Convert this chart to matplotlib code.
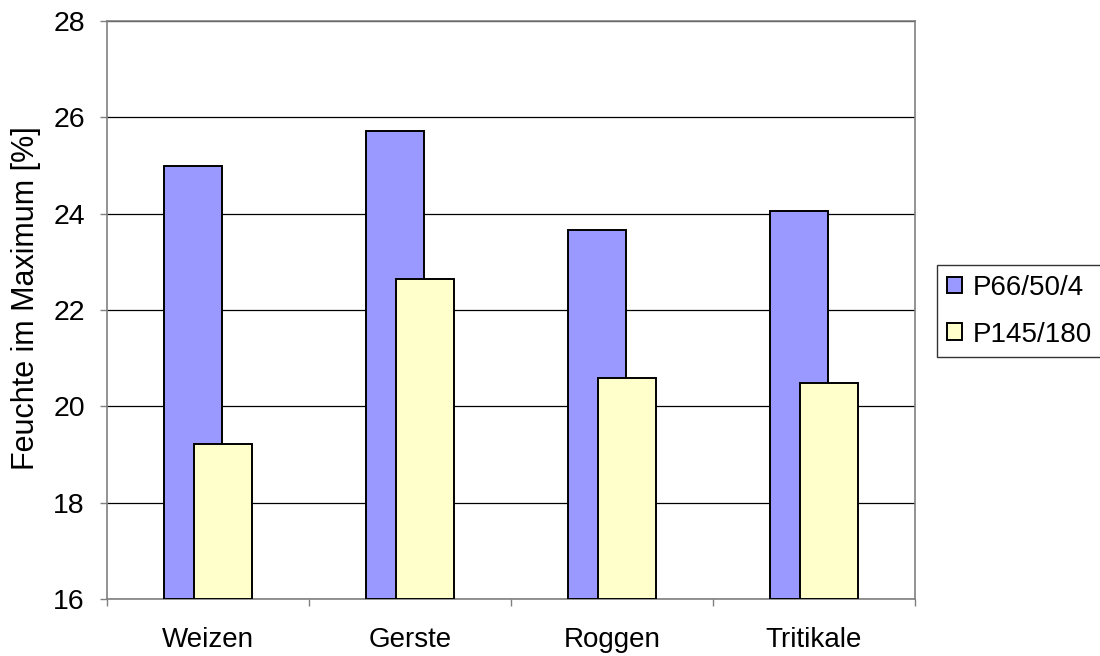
import matplotlib
matplotlib.use("Agg")
import matplotlib.pyplot as plt
import numpy as np

plt.rcParams['font.family'] = ['Liberation Sans', 'DejaVu Sans']

categories = ["Weizen", "Gerste", "Roggen", "Tritikale"]
series_names = ["P66/50/4", "P145/180"]
p66 = [25.0, 25.72, 23.66, 24.06]
p145 = [19.22, 22.64, 20.59, 20.48]
yticks = [16, 18, 20, 22, 24, 26, 28]
colors = ["#9999FF", "#FFFFCC"]

fig = plt.figure(figsize=(11, 6.56), dpi=100)
ax = fig.add_axes([107/1100, 57/656, (915-107)/1100, (599-21)/656])

x = np.arange(len(categories))
w = 0.287
off = 0.072
ax.bar(x - off, np.array(p66) - 16, bottom=16, width=w, color=colors[0],
       edgecolor="black", linewidth=1.4, zorder=3, label=series_names[0])
ax.bar(x + off, np.array(p145) - 16, bottom=16, width=w, color=colors[1],
       edgecolor="black", linewidth=1.4, zorder=4, label=series_names[1])

ax.set_ylim(16, 28)
ax.set_xlim(-0.5, len(categories) - 0.5)
ax.set_yticks(yticks)
ax.set_yticklabels([str(v) for v in yticks])
ax.yaxis.grid(True, color="black", linewidth=0.9, zorder=0)
ax.set_axisbelow(True)

ax.set_xticks(x)
ax.set_xticklabels(categories)
ax.set_xticks(np.arange(-0.5, len(categories), 1.0), minor=True)
ax.tick_params(axis="x", which="major", length=0, pad=20, labelsize=20)
ax.tick_params(axis="x", which="minor", length=5, width=1, color="#808080")
ax.tick_params(axis="y", length=5, width=1, color="#808080", pad=11, labelsize=20.5)

for s in ax.spines.values():
    s.set_color("#808080")
    s.set_linewidth(1.2)

fig.text(26/1100, 1 - 470/656, "Feuchte im Maximum [%]", rotation=90,
         ha="center", va="bottom", fontsize=22)

leg = fig.legend(loc="upper left", bbox_to_anchor=(937/1100, 1 - 265/656),
                 fontsize=20, frameon=True, fancybox=False, edgecolor="black",
                 handlelength=0.55, handleheight=0.55, handletextpad=0.4,
                 borderpad=0.35, labelspacing=0.75, borderaxespad=0)
leg.get_frame().set_linewidth(1.0)

fig.savefig("out.png", dpi=100)
